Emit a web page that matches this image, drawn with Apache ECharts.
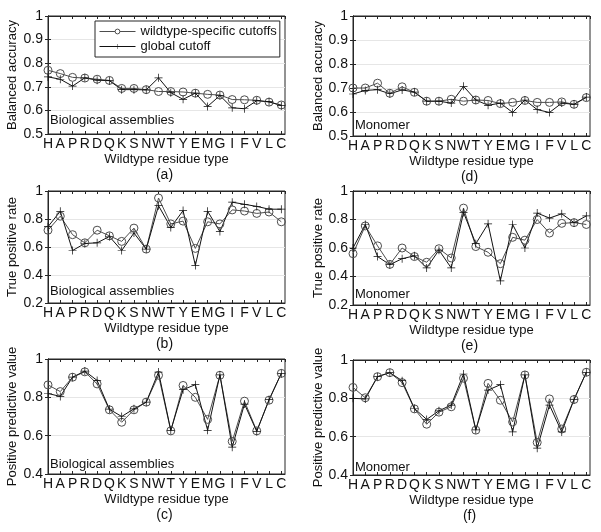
<!DOCTYPE html>
<html>
<head>
<meta charset="utf-8">
<script src="https://cdn.jsdelivr.net/npm/echarts@6/dist/echarts.min.js"></script>
<style>
html, body { margin: 0; padding: 0; background: #fff; }
#chart { width: 601px; height: 532px; }
</style>
</head>
<body>
<div id="chart"></div>
<script>
const residues = ["H", "A", "P", "R", "D", "Q", "K", "S", "N", "W", "T", "Y", "E", "M", "G", "I", "F", "V", "L", "C"];

// balanced accuracy
const baBioWildtype = [0.77, 0.756, 0.74, 0.737, 0.732, 0.727, 0.693, 0.693, 0.688, 0.68, 0.68, 0.678, 0.673, 0.668, 0.665, 0.646, 0.645, 0.643, 0.635, 0.623];
const baBioGlobal = [0.742, 0.732, 0.703, 0.738, 0.728, 0.726, 0.688, 0.688, 0.687, 0.738, 0.675, 0.647, 0.673, 0.617, 0.663, 0.611, 0.607, 0.641, 0.637, 0.62];
const baMonoWildtype = [0.70, 0.70, 0.72, 0.678, 0.705, 0.682, 0.645, 0.645, 0.653, 0.645, 0.65, 0.648, 0.635, 0.64, 0.648, 0.64, 0.64, 0.642, 0.632, 0.66];
const baMonoGlobal = [0.675, 0.69, 0.693, 0.676, 0.692, 0.683, 0.645, 0.645, 0.637, 0.707, 0.65, 0.628, 0.637, 0.598, 0.65, 0.61, 0.598, 0.637, 0.632, 0.662];

// true positive rate
const tprBioWildtype = [0.72, 0.82, 0.688, 0.63, 0.72, 0.68, 0.64, 0.735, 0.585, 0.95, 0.765, 0.785, 0.59, 0.78, 0.765, 0.865, 0.857, 0.84, 0.85, 0.78];
const tprBioGlobal = [0.745, 0.855, 0.575, 0.625, 0.63, 0.675, 0.575, 0.70, 0.585, 0.895, 0.74, 0.86, 0.468, 0.855, 0.71, 0.92, 0.905, 0.89, 0.87, 0.87];
const tprMonoWildtype = [0.56, 0.755, 0.615, 0.485, 0.60, 0.54, 0.50, 0.595, 0.53, 0.88, 0.61, 0.57, 0.49, 0.675, 0.655, 0.80, 0.705, 0.773, 0.778, 0.765];
const tprMonoGlobal = [0.60, 0.765, 0.54, 0.483, 0.525, 0.545, 0.46, 0.585, 0.46, 0.85, 0.63, 0.77, 0.37, 0.765, 0.60, 0.845, 0.81, 0.84, 0.778, 0.825];

// positive predictive value
const ppvBioWildtype = [0.865, 0.83, 0.905, 0.933, 0.87, 0.735, 0.67, 0.735, 0.775, 0.915, 0.625, 0.862, 0.80, 0.685, 0.915, 0.57, 0.78, 0.625, 0.785, 0.925];
const ppvBioGlobal = [0.82, 0.805, 0.905, 0.937, 0.888, 0.738, 0.70, 0.74, 0.775, 0.932, 0.628, 0.84, 0.866, 0.628, 0.917, 0.54, 0.765, 0.622, 0.788, 0.925];
const ppvMonoWildtype = [0.857, 0.803, 0.913, 0.934, 0.882, 0.745, 0.665, 0.728, 0.756, 0.905, 0.634, 0.878, 0.79, 0.677, 0.922, 0.57, 0.797, 0.64, 0.794, 0.936];
const ppvMonoGlobal = [0.80, 0.797, 0.913, 0.934, 0.892, 0.747, 0.69, 0.735, 0.765, 0.927, 0.636, 0.843, 0.871, 0.625, 0.922, 0.54, 0.765, 0.625, 0.794, 0.936];

const legendNames = ["wildtype-specific cutoffs", "global cutoff"];

const FONT = "Arial, 'Liberation Sans', sans-serif";
const INK = "#111";
const BOX = "#262626";
const PLUS = "path://M-1,-0.09H1V0.09H-1Z M-0.09,-1H0.09V1H-0.09Z";
const X_MAX = 19.3;

const panels = [
  { tag: "(a)", left: 48, top: 16, width: 237, height: 118, yName: "Balanced accuracy", yMin: 0.5, yStep: 0.1, wild: baBioWildtype, glob: baBioGlobal, note: "Biological assemblies", noteY: 120 },
  { tag: "(b)", left: 48, top: 191, width: 237, height: 112, yName: "True positive rate", yMin: 0.2, yStep: 0.2, wild: tprBioWildtype, glob: tprBioGlobal, note: "Biological assemblies", noteY: 291 },
  { tag: "(c)", left: 48, top: 359, width: 237, height: 115, yName: "Positive predictive value", yMin: 0.4, yStep: 0.2, wild: ppvBioWildtype, glob: ppvBioGlobal, note: "Biological assemblies", noteY: 464 },
  { tag: "(d)", left: 353, top: 16, width: 237, height: 120, yName: "Balanced accuracy", yMin: 0.5, yStep: 0.1, wild: baMonoWildtype, glob: baMonoGlobal, note: "Monomer", noteY: 125 },
  { tag: "(e)", left: 353, top: 191, width: 237, height: 114, yName: "True positive rate", yMin: 0.2, yStep: 0.2, wild: tprMonoWildtype, glob: tprMonoGlobal, note: "Monomer", noteY: 294 },
  { tag: "(f)", left: 353, top: 360, width: 237, height: 115, yName: "Positive predictive value", yMin: 0.4, yStep: 0.2, wild: ppvMonoWildtype, glob: ppvMonoGlobal, note: "Monomer", noteY: 467 },
];

const grids = [], xAxes = [], yAxes = [], series = [], graphics = [];

panels.forEach((p, i) => {
  grids.push({ left: p.left, top: p.top, width: p.width, height: p.height, show: true, borderColor: BOX, borderWidth: 1, backgroundColor: "#fff" });

  const xBase = {
    gridIndex: i, type: "value", min: 0, max: X_MAX, interval: 1,
    axisLine: { show: true, lineStyle: { color: BOX } },
    axisTick: { show: true, inside: true, length: 3, lineStyle: { color: BOX } },
    splitLine: { show: false },
  };
  xAxes.push({
    ...xBase, position: "bottom",
    axisLabel: {
      color: INK, fontSize: 14, fontFamily: FONT, margin: 3, showMaxLabel: false,
      formatter: (v) => (Number.isInteger(v) && residues[v]) ? residues[v] : "",
    },
    name: "Wildtype residue type", nameLocation: "middle", nameGap: 19,
    nameTextStyle: { color: INK, fontSize: 13, fontFamily: FONT },
  });
  xAxes.push({ ...xBase, position: "top", axisLabel: { show: false } });

  const yBase = {
    gridIndex: i, type: "value", min: p.yMin, max: 1, interval: p.yStep,
    axisLine: { show: true, lineStyle: { color: BOX } },
    axisTick: { show: true, inside: true, length: 3, lineStyle: { color: BOX } },
  };
  yAxes.push({
    ...yBase, position: "left",
    splitLine: { show: true, lineStyle: { color: "#e6e6e6", width: 1 } },
    axisLabel: { color: INK, fontSize: 14, fontFamily: FONT, margin: 5, formatter: (v) => String(+v.toFixed(1)) },
    name: p.yName, nameLocation: "middle", nameGap: i < 3 ? 29 : 26,
    nameTextStyle: { color: INK, fontSize: 13, fontFamily: FONT },
  });
  yAxes.push({ ...yBase, position: "right", splitLine: { show: false }, axisLabel: { show: false } });

  series.push({
    name: legendNames[0], type: "line", xAxisIndex: 2 * i, yAxisIndex: 2 * i,
    data: p.wild.map((v, k) => [k, v]),
    symbol: "circle", symbolSize: 8,
    lineStyle: { color: "#4d4d4d", width: 1 },
    itemStyle: { color: "rgba(255,255,255,0)", borderColor: "#4d4d4d", borderWidth: 1 },
    animation: false,
  });
  series.push({
    name: legendNames[1], type: "line", xAxisIndex: 2 * i, yAxisIndex: 2 * i,
    data: p.glob.map((v, k) => [k, v]),
    symbol: PLUS, symbolSize: 8,
    lineStyle: { color: "#111", width: 1 },
    itemStyle: { color: "#111" },
    animation: false,
  });

  graphics.push({
    type: "text", x: p.left + 2, y: p.noteY,
    style: { text: p.note, fill: INK, font: "13px " + FONT, textAlign: "left", textVerticalAlign: "middle" },
  });
  graphics.push({
    type: "text", x: p.left + p.width / 2 - 2, y: p.top + p.height + 41,
    style: { text: p.tag, fill: INK, font: "14px " + FONT, textAlign: "center", textVerticalAlign: "middle" },
  });
});

const chart = echarts.init(document.getElementById("chart"));
chart.setOption({
  animation: false,
  backgroundColor: "#fff",
  grid: grids,
  xAxis: xAxes,
  yAxis: yAxes,
  series: series,
  graphic: graphics,
  legend: {
    data: [
      { name: legendNames[0], itemStyle: { color: "#fff", borderColor: "#4d4d4d", borderWidth: 1 } },
      { name: legendNames[1] },
    ],
    orient: "vertical",
    left: 95, top: 21,
    padding: [4, 3, 4, 4],
    itemGap: 2,
    itemWidth: 36, itemHeight: 6,
    lineStyle: { width: 1 },
    backgroundColor: "#fff",
    borderColor: BOX, borderWidth: 1,
    textStyle: { color: INK, fontSize: 13, fontFamily: FONT },
  },
});
</script>
</body>
</html>
